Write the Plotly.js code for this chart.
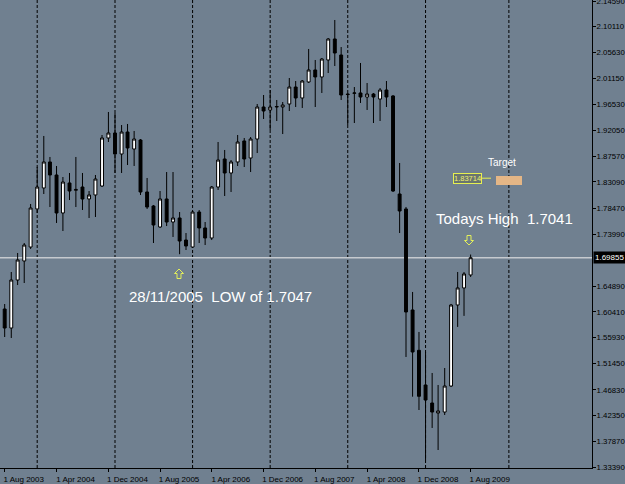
<!DOCTYPE html>
<html>
<head>
<meta charset="utf-8">
<script src="https://cdn.plot.ly/plotly-3.0.1.min.js"></script>
<style>html,body{margin:0;padding:0;background:#708090;}#chart{width:625px;height:484px;}</style>
</head>
<body>
<div id="chart"></div>
<script>
// Monthly GBP/USD candles, Aug 2003 .. Aug 2009
const months = [
 "2003-08-01","2003-09-01","2003-10-01","2003-11-01","2003-12-01",
 "2004-01-01","2004-02-01","2004-03-01","2004-04-01","2004-05-01","2004-06-01","2004-07-01","2004-08-01","2004-09-01","2004-10-01","2004-11-01","2004-12-01",
 "2005-01-01","2005-02-01","2005-03-01","2005-04-01","2005-05-01","2005-06-01","2005-07-01","2005-08-01","2005-09-01","2005-10-01","2005-11-01","2005-12-01",
 "2006-01-01","2006-02-01","2006-03-01","2006-04-01","2006-05-01","2006-06-01","2006-07-01","2006-08-01","2006-09-01","2006-10-01","2006-11-01","2006-12-01",
 "2007-01-01","2007-02-01","2007-03-01","2007-04-01","2007-05-01","2007-06-01","2007-07-01","2007-08-01","2007-09-01","2007-10-01","2007-11-01","2007-12-01",
 "2008-01-01","2008-02-01","2008-03-01","2008-04-01","2008-05-01","2008-06-01","2008-07-01","2008-08-01","2008-09-01","2008-10-01","2008-11-01","2008-12-01",
 "2009-01-01","2009-02-01","2009-03-01","2009-04-01","2009-05-01","2009-06-01","2009-07-01","2009-08-01"
];
const openP = [
 1.6092,1.5761,1.6597,1.6929,1.7172,
 1.7835,1.8201,1.8654,1.8427,1.7765,1.8288,1.8160,1.8218,1.8009,1.8079,1.8235,1.9072,
 1.9159,1.8793,1.9176,1.8880,1.9037,1.8131,1.7887,1.7521,1.8009,1.7608,1.7678,1.7294,
 1.7172,1.7782,1.7504,1.7329,1.8218,1.8706,1.8462,1.8654,1.9020,1.8723,1.9054,1.9612,
 1.9560,1.9612,1.9612,1.9664,1.9960,1.9769,2.0048,2.0257,2.0135,2.0431,2.0797,2.0518,
 1.9838,1.9850,1.9856,1.9786,1.9838,1.9751,1.9908,1.9804,1.8096,1.7835,1.6075,1.5372,
 1.4768,1.4454,1.4280,1.4297,1.4750,1.6162,1.6459,1.6685
];
const highP = [
 1.6179,1.6737,1.7068,1.7242,1.7922,
 1.8566,1.9107,1.8741,1.8584,1.8392,1.8462,1.8741,1.8462,1.8148,1.8427,1.9124,1.9525,
 1.9507,1.9298,1.9316,1.9194,1.9054,1.8375,1.7904,1.8148,1.8479,1.8479,1.7782,1.7416,
 1.7800,1.7817,1.7608,1.8235,1.9002,1.8863,1.8688,1.9124,1.9072,1.9089,1.9664,1.9821,
 1.9908,1.9734,1.9699,2.0117,2.0065,2.0082,2.0623,2.0431,2.0466,2.0814,2.1128,2.0657,
 1.9856,1.9960,2.0379,2.0030,1.9856,1.9943,2.0065,1.9821,1.8636,1.7870,1.6389,1.5692,
 1.5343,1.4977,1.4768,1.5064,1.6180,1.6737,1.6737,1.7041
];
const lowP = [
 1.5604,1.5587,1.6510,1.6545,1.7138,
 1.7765,1.8096,1.7869,1.7591,1.7451,1.7991,1.7869,1.7817,1.7678,1.7695,1.8218,1.9002,
 1.8462,1.8462,1.8601,1.8584,1.8078,1.7835,1.7242,1.7504,1.7538,1.7347,1.7047,1.7120,
 1.7155,1.7242,1.7207,1.7294,1.8166,1.8061,1.8131,1.8584,1.8566,1.8479,1.8810,1.9403,
 1.9211,1.9368,1.9141,1.9542,1.9612,1.9595,2.0030,1.9612,1.9856,2.0204,2.0326,1.9734,
 1.9298,1.9333,1.9682,1.9560,1.9333,1.9368,1.9612,1.8131,1.7416,1.5256,1.4564,1.4332,
 1.3461,1.4019,1.3635,1.4245,1.4733,1.5780,1.5972,1.6650
];
const closeP = [
 1.5761,1.6597,1.6946,1.7207,1.7852,
 1.8218,1.8654,1.8427,1.7765,1.8305,1.8148,1.8175,1.8009,1.8079,1.8357,1.9072,1.9159,
 1.8793,1.9176,1.8898,1.9054,1.8131,1.7869,1.7556,1.8009,1.7608,1.7678,1.7277,1.7190,
 1.7782,1.7504,1.7329,1.8218,1.8688,1.8462,1.8654,1.9002,1.8706,1.9054,1.9612,1.9542,
 1.9612,1.9620,1.9647,1.9960,1.9769,2.0065,2.0257,2.0135,2.0448,2.0797,2.0553,1.9821,
 1.9830,1.9856,1.9786,1.9838,1.9786,1.9908,1.9786,1.8148,1.7800,1.6040,1.5343,1.4571,
 1.4506,1.4297,1.4315,1.4750,1.6162,1.6459,1.6703,1.69855
];
const yTickVals = [2.14590,2.10110,2.05630,2.01150,1.96530,1.92050,1.87570,1.83090,1.78470,1.73990,1.64890,1.60410,1.55930,1.51450,1.46830,1.42350,1.37870,1.33390];
const yTickText = ["2.14590","2.10110","2.05630","2.01150","1.96530","1.92050","1.87570","1.83090","1.78470","1.73990","1.64890","1.60410","1.55930","1.51450","1.46830","1.42350","1.37870","1.33390"];
const xTickVals = ["2003-08-01","2004-04-01","2004-12-01","2005-08-01","2006-04-01","2006-12-01","2007-08-01","2008-04-01","2008-12-01","2009-08-01"];
const xTickText = ["1 Aug 2003","1 Apr 2004","1 Dec 2004","1 Aug 2005","1 Apr 2006","1 Dec 2006","1 Aug 2007","1 Apr 2008","1 Dec 2008","1 Aug 2009"];
const yearLines = ["2004-01-01","2005-01-01","2006-01-01","2007-01-01","2008-01-01","2009-01-01","2010-01-28"];
const currentPrice = 1.69855;
const targetPrice = 1.83714;
const lowNote = "28/11/2005 \u00a0LOW of 1.7047";
const highNote = "Todays High \u00a01.7041";

// layout helpers (pixel -> paper)
const PW = 592, PH = 468;
const px = v => v / PW;
const py = v => (PH - v) / PH;

// hollow arrow outline path around centre (cx, cy) in pixels; dir = -1 up, +1 down
function arrowPath(cx, cy, dir) {
  const pts = [[0,-5],[4.5,-0.5],[2,-0.5],[2,4.5],[-2,4.5],[-2,-0.5],[-4.5,-0.5]];
  return 'M' + pts.map(p => px(cx + p[0]).toFixed(5) + ',' + py(cy + dir * -p[1] * -1 * (dir < 0 ? 1 : -1) * -1).toFixed(5)).join('L') + 'Z';
}
function arrow(cx, cy, up) {
  const pts = [[0,-5],[4.5,-0.5],[2,-0.5],[2,4.5],[-2,4.5],[-2,-0.5],[-4.5,-0.5]];
  const s = up ? 1 : -1;
  return 'M' + pts.map(p => px(cx + p[0]).toFixed(5) + ',' + py(cy + s * p[1]).toFixed(5)).join('L') + 'Z';
}

const shapes = yearLines.map(d => ({
  type: 'line', xref: 'x', yref: 'paper', x0: d, x1: d, y0: 0, y1: 1,
  line: {color: '#000000', width: 1, dash: '3px,2px'}, layer: 'below'
}));
shapes.push({type: 'line', xref: 'paper', yref: 'y', x0: 0, x1: 1, y0: currentPrice, y1: currentPrice,
  line: {color: 'rgb(198,202,207)', width: 1.5}, layer: 'below'});
shapes.push({type: 'line', xref: 'paper', yref: 'y', x0: px(482), x1: px(491), y0: targetPrice, y1: targetPrice,
  line: {color: '#e6f050', width: 1}});
shapes.push({type: 'rect', xref: 'paper', yref: 'paper', x0: px(496), x1: px(522), y0: py(185), y1: py(176),
  fillcolor: 'rgb(228,182,134)', line: {width: 0}});
shapes.push({type: 'path', xref: 'paper', yref: 'paper', path: arrow(179, 274, true),
  line: {color: '#e4f05a', width: 1}, fillcolor: 'rgba(0,0,0,0)'});
shapes.push({type: 'path', xref: 'paper', yref: 'paper', path: arrow(469, 240, false),
  line: {color: '#e4f05a', width: 1}, fillcolor: 'rgba(0,0,0,0)'});

const annotations = [
  {xref: 'paper', yref: 'paper', x: px(127), y: py(296), xanchor: 'left', yanchor: 'middle', showarrow: false,
   text: lowNote, font: {family: 'Liberation Sans, Arial', size: 15, color: '#ffffff'}},
  {xref: 'paper', yref: 'paper', x: px(434), y: py(218), xanchor: 'left', yanchor: 'middle', showarrow: false,
   text: highNote, font: {family: 'Liberation Sans, Arial', size: 15, color: '#ffffff'}},
  {xref: 'paper', yref: 'paper', x: px(502), y: py(162), xanchor: 'center', yanchor: 'middle', showarrow: false,
   text: 'Target', font: {family: 'Liberation Sans, Arial', size: 10, color: '#ffffff'}},
  {xref: 'paper', yref: 'y', x: px(467), y: targetPrice, xanchor: 'center', yanchor: 'middle', showarrow: false,
   text: targetPrice.toFixed(5), font: {family: 'Liberation Sans, Arial', size: 7.5, color: '#f0f070'},
   bordercolor: '#e6f050', borderwidth: 1, borderpad: 0, bgcolor: 'rgba(100,110,90,0.6)'},
  {xref: 'paper', yref: 'y', x: 1, y: currentPrice, xanchor: 'left', yanchor: 'middle', showarrow: false, xshift: 1,
   text: currentPrice.toFixed(5), font: {family: 'Liberation Sans, Arial', size: 8, color: '#ffffff'},
   bgcolor: '#000000', borderpad: 1}
];

const trace = {
  type: 'candlestick', x: months, open: openP, high: highP, low: lowP, close: closeP,
  increasing: {line: {color: '#000000', width: 1}, fillcolor: '#ffffff'},
  decreasing: {line: {color: '#000000', width: 1}, fillcolor: '#000000'},
  whiskerwidth: 0, hoverinfo: 'skip', showlegend: false
};

const layout = {
  width: 625, height: 484,
  margin: {l: 0, r: 33, t: 0, b: 16, pad: 0},
  paper_bgcolor: '#708090', plot_bgcolor: '#708090',
  showlegend: false,
  xaxis: {
    type: 'date', range: ['2003-07-10', '2011-02-23'],
    rangeslider: {visible: false},
    tickvals: xTickVals, ticktext: xTickText, ticklabelshift: 19,
    tickfont: {family: 'Liberation Sans, Arial', size: 8, color: '#000000'},
    ticks: 'outside', ticklen: 3, tickcolor: '#000000',
    showline: true, linecolor: '#000000', linewidth: 1,
    showgrid: false, zeroline: false, fixedrange: true
  },
  yaxis: {
    side: 'right', range: [1.33215, 2.14764],
    tickvals: yTickVals, ticktext: yTickText,
    tickfont: {family: 'Liberation Sans, Arial', size: 7.8, color: '#000000'},
    ticks: 'outside', ticklen: 3, tickcolor: '#000000', ticklabelstandoff: -1,
    ticklabeloverflow: 'allow',
    showline: true, linecolor: '#000000', linewidth: 1,
    showgrid: false, zeroline: false, fixedrange: true
  },
  shapes: shapes,
  annotations: annotations
};

Plotly.newPlot('chart', [trace], layout, {staticPlot: true, displayModeBar: false});
</script>
</body>
</html>
